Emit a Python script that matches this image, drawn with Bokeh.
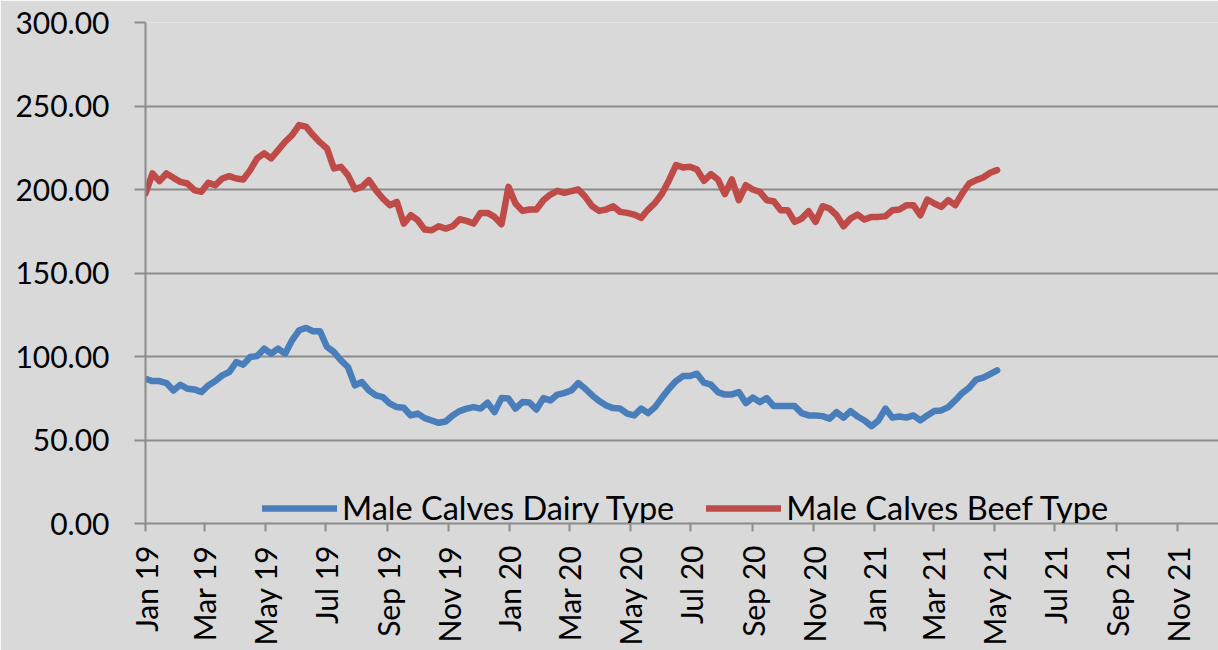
from datetime import datetime
import pandas as pd
from bokeh.plotting import figure
from bokeh.models import (Range1d, MonthsTicker, DatetimeTickFormatter, NumeralTickFormatter,
                          FixedTicker, Legend, LegendItem)
from bokeh.embed import file_html
from bokeh.resources import INLINE

# ---- data (weekly prices) ----
start_date = "2019-01-01"
dairy = [86.7, 85.3, 85.3, 84.1, 79.7, 83.1, 80.7, 80.3, 78.7, 82.7,
         85.3, 88.7, 90.7, 96.7, 95.1, 99.7, 100.3, 104.7, 101.7, 104.7,
         101.7, 109.7, 115.7, 117.1, 115.1, 115.1, 105.7, 102.7, 97.7, 93.7,
         82.7, 84.7, 79.7, 76.7, 75.7, 71.8, 69.7, 69.3, 64.7, 65.8,
         63.1, 61.7, 60.3, 61.1, 64.7, 67.3, 68.8, 69.7, 68.8, 72.4,
         66.7, 75.1, 74.8, 68.8, 72.7, 72.4, 68.3, 75.1, 73.7, 77.2,
         78.1,
         79.7, 84.1, 80.7, 76.7, 73.3, 70.7, 69.1, 68.8, 65.8, 64.7,
         68.8, 66.1, 69.7, 75.4, 80.7, 85.3, 88.3, 88.3, 89.7, 84.3,
         83.1, 78.7, 77.2, 77.3, 78.7, 72.1, 75.4, 72.7, 75.1, 70.3,
         70.3, 70.3, 70.3, 66.1, 64.7, 64.7, 64.3, 62.8, 66.7, 63.4,
         67.3, 64.1, 61.7, 58.3, 61.7, 68.8, 63.4, 64.1, 63.4, 64.7,
         61.7, 64.7, 67.3, 67.7, 69.7, 73.7, 78.1, 81.3, 86.1, 87.3,
         89.5, 91.7]
beef = [197.6, 209.6, 205.0, 209.6, 207.0, 204.6, 203.6, 199.6, 198.6, 204.0,
        202.6, 206.6, 208.0, 206.6, 206.0, 211.6, 218.6, 221.6, 218.6, 223.6,
        228.6, 232.6, 238.6, 237.6, 232.6, 228.2, 224.6, 212.6, 213.6, 208.6,
        200.2, 201.6, 205.6, 199.6, 194.6, 190.6, 192.6, 179.6, 184.6, 181.6,
        176.0,
        175.6, 178.0, 176.6, 178.0, 182.2, 181.2, 179.6, 186.0, 186.0, 183.6,
        179.2, 201.6, 191.6, 187.2, 188.0, 188.0, 193.6, 197.0, 199.2, 198.0,
        199.0, 200.0, 195.6, 190.0, 187.2, 188.0, 190.0, 186.6, 186.0, 185.0,
        183.0, 188.0, 192.0, 197.6, 205.6, 214.6, 213.2, 213.6, 212.0, 205.2,
        209.2,
        206.0, 197.2, 206.0, 193.6, 202.6, 200.0, 198.6, 193.6, 193.0, 187.6,
        187.6, 180.6, 182.6, 187.0, 180.6, 190.0, 188.6, 184.6, 178.0, 182.6,
        185.0, 182.0, 183.6, 183.6, 184.0, 187.6, 188.0, 190.6, 190.6, 184.6,
        194.0, 191.6, 189.6, 193.6, 190.6, 197.6, 203.6, 205.6, 207.2, 210.0,
        211.6]
series_names = ["Male Calves Dairy Type", "Male Calves Beef Type"]
y_ticks = [0, 50, 100, 150, 200, 250, 300]

dates = pd.date_range(start_date, periods=len(beef), freq="7D")

BG = "#d9d9d9"
GRID = "#8c8c8c"
FONT = "Lato"

p = figure(width=1218, height=650, x_axis_type="datetime",
           output_backend="svg", toolbar_location=None,
           x_range=Range1d(datetime(2019, 1, 1), datetime(2021, 12, 12)),
           y_range=Range1d(0, 300),
           min_border_left=145, min_border_right=0, min_border_top=22, min_border_bottom=127)
p.background_fill_color = BG
p.border_fill_color = BG
p.outline_line_color = None

r1 = p.line(dates, dairy[:len(dates)], line_color="#4a7ebb", line_width=6.5,
            line_cap="round", line_join="round")
r2 = p.line(dates, beef, line_color="#be4b48", line_width=6.5,
            line_cap="round", line_join="round")

# grids
p.xgrid.visible = False
p.ygrid.grid_line_color = GRID
p.ygrid.grid_line_width = 2
p.ygrid.ticker = FixedTicker(ticks=y_ticks)

# y axis
ya = p.yaxis[0]
ya.ticker = FixedTicker(ticks=y_ticks)
ya.formatter = NumeralTickFormatter(format="0.00")
ya.axis_line_color = GRID
ya.axis_line_width = 2
ya.major_tick_line_color = GRID
ya.major_tick_line_width = 2
ya.major_tick_out = 11
ya.major_tick_in = 0
ya.minor_tick_line_color = None
ya.major_label_text_font = FONT
ya.major_label_text_font_size = "30px"
ya.major_label_text_color = "black"
ya.major_label_standoff = 25

# x axis
xa = p.xaxis[0]
xa.ticker = MonthsTicker(months=[0, 2, 4, 6, 8, 10])
xa.formatter = DatetimeTickFormatter(months="%b %y", days="%b %y", years="%b %y")
xa.axis_line_color = GRID
xa.axis_line_width = 2
xa.major_tick_line_color = GRID
xa.major_tick_line_width = 2
xa.major_tick_out = 8
xa.major_tick_in = 0
xa.minor_tick_line_color = None
xa.major_label_orientation = 1.5707963
xa.major_label_text_font = FONT
xa.major_label_text_font_size = "30px"
xa.major_label_text_color = "black"
xa.major_label_standoff = 14

legend = Legend(items=[LegendItem(label=series_names[0], renderers=[r1]),
                       LegendItem(label=series_names[1], renderers=[r2])],
                orientation="horizontal", location=(117, -4))
legend.background_fill_alpha = 0
legend.border_line_alpha = 0
legend.label_text_font = FONT
legend.label_text_font_size = "32.5px"
legend.label_text_color = "black"
legend.glyph_width = 75
legend.glyph_height = 30
legend.label_height = 30
legend.label_standoff = 5
legend.spacing = 32
legend.padding = 0
legend.margin = 0
p.add_layout(legend)

open("out.html", "w").write(file_html(p, INLINE))
